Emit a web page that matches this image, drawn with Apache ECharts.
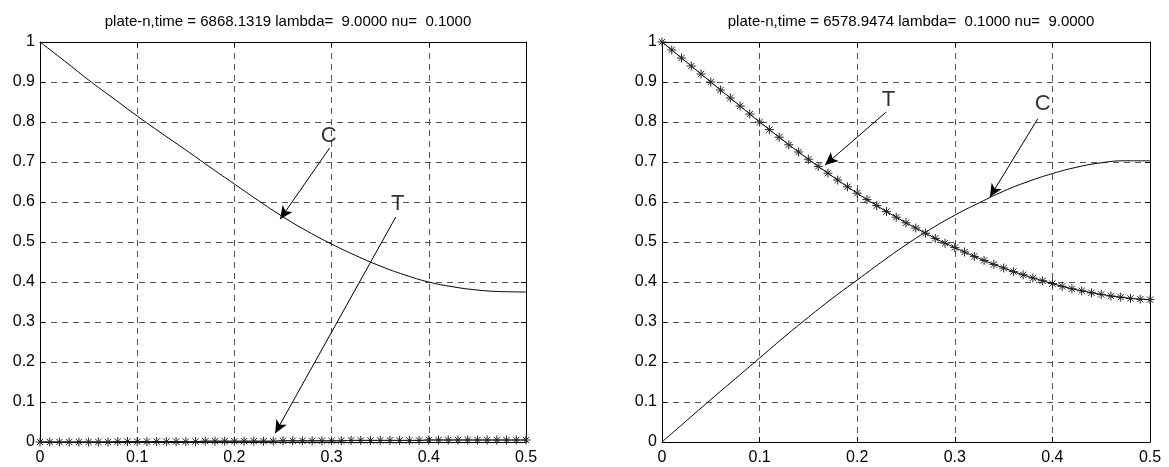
<!DOCTYPE html>
<html><head><meta charset="utf-8">
<script src="https://cdn.jsdelivr.net/npm/echarts@6/dist/echarts.min.js"></script>
<style>html,body{margin:0;padding:0;background:#fff}#c{width:1169px;height:467px}</style>
</head><body><div id="c"></div>
<script>
// ---- data ----
const titleLeft = 'plate-n,time = 6868.1319 lambda=  9.0000 nu=  0.1000';
const titleRight = 'plate-n,time = 6578.9474 lambda=  0.1000 nu=  9.0000';

const xFine = [0,0.01,0.02,0.03,0.04,0.05,0.06,0.07,0.08,0.09,0.1,0.11,0.12,0.13,0.14,0.15,0.16,0.17,0.18,0.19,0.2,0.21,0.22,0.23,0.24,0.25,0.26,0.27,0.28,0.29,0.3,0.31,0.32,0.33,0.34,0.35,0.36,0.37,0.38,0.39,0.4,0.41,0.42,0.43,0.44,0.45,0.46,0.47,0.48,0.49,0.5];
const xCoarse = [0,0.025,0.05,0.075,0.1,0.125,0.15,0.175,0.2,0.225,0.25,0.275,0.3,0.325,0.35,0.375,0.4,0.425,0.45,0.475,0.5];

// left plot (lambda = 9, nu = 0.1)
const leftC = [1.0,0.953,0.905,0.86,0.815,0.772,0.73,0.687,0.645,0.603,0.563,0.527,0.495,0.466,0.44,0.418,0.4,0.388,0.38,0.376,0.375];
const leftT = [0,0,0,0,0,0,0,0,0.001,0.001,0.001,0.001,0.001,0.001,0.001,0.001,0.001,0.002,0.002,0.002,0.002,0.002,0.002,0.002,0.002,0.003,0.003,0.003,0.003,0.003,0.003,0.003,0.004,0.004,0.004,0.004,0.004,0.004,0.004,0.004,0.005,0.005,0.005,0.005,0.005,0.005,0.005,0.005,0.005,0.005,0.005];

// right plot (lambda = 0.1, nu = 9)
const rightT = [1.0,0.98,0.96,0.94,0.92,0.9,0.88,0.86,0.84,0.82,0.8,0.781,0.762,0.743,0.725,0.707,0.689,0.672,0.655,0.638,0.622,0.606,0.591,0.576,0.562,0.548,0.535,0.522,0.509,0.497,0.486,0.475,0.464,0.454,0.444,0.435,0.426,0.418,0.41,0.403,0.396,0.389,0.383,0.378,0.373,0.369,0.365,0.362,0.359,0.357,0.356];
const rightC = [0,0.053,0.106,0.158,0.21,0.262,0.312,0.36,0.405,0.45,0.493,0.532,0.567,0.598,0.627,0.651,0.671,0.687,0.698,0.703,0.703];

// annotations: [labelX, labelY, text, arrowStartX, arrowStartY, tipX, tipY]
const leftNotes = [[0.297,0.765,'C',0.298,0.735,0.247,0.557],[0.368,0.595,'T',0.366,0.5625,0.242,0.022]];
const rightNotes = [[0.232,0.855,'T',0.2297,0.825,0.167,0.6925],[0.39,0.845,'C',0.385,0.808,0.336,0.6125]];

const xTicks = [0,0.1,0.2,0.3,0.4,0.5];
const yTicks = [0,0.1,0.2,0.3,0.4,0.5,0.6,0.7,0.8,0.9,1];

// ---- chart ----
const FONT = 'Liberation Sans, Arial, sans-serif';
const grids = [
  {left:40, top:42, width:486, height:400},
  {left:662, top:42, width:488, height:400}
];
const star = 'path://M0,-10L0,10M-10,0L10,0M-7,-7L7,7M-7,7L7,-7';

function pair(a,b){return a.map((v,i)=>[v,b[i]]);}
const fmt = v=>String(+(+v).toFixed(2));

const xAxes=[], yAxes=[], series=[];
[0,1].forEach(g=>{
  xAxes.push({gridIndex:g,type:'value',min:xTicks[0],max:xTicks[xTicks.length-1],interval:0.1,
    axisLine:{show:true,onZero:false,lineStyle:{color:'#000',width:1}},
    axisTick:{show:true,inside:true,length:5,lineStyle:{color:'#000'}},
    axisLabel:{color:'#000',fontFamily:FONT,fontSize:16,margin:8,formatter:fmt},
    splitLine:{show:true,lineStyle:{color:'#555',type:[6,5],width:1}}});
  xAxes.push({gridIndex:g,type:'value',position:'top',min:0,max:0.5,interval:0.1,
    axisLine:{show:true,onZero:false,lineStyle:{color:'#000',width:1}},
    axisTick:{show:true,inside:true,length:5,lineStyle:{color:'#000'}},
    axisLabel:{show:false},splitLine:{show:false}});
  yAxes.push({gridIndex:g,type:'value',min:yTicks[0],max:yTicks[yTicks.length-1],interval:0.1,
    axisLine:{show:true,onZero:false,lineStyle:{color:'#000',width:1}},
    axisTick:{show:true,inside:true,length:5,lineStyle:{color:'#000'}},
    axisLabel:{color:'#000',fontFamily:FONT,fontSize:16,margin:5,formatter:fmt},
    splitLine:{show:true,lineStyle:{color:'#555',type:[6,5],width:1}}});
  yAxes.push({gridIndex:g,type:'value',position:'right',min:0,max:1,interval:0.1,
    axisLine:{show:true,onZero:false,lineStyle:{color:'#000',width:1}},
    axisTick:{show:true,inside:true,length:5,lineStyle:{color:'#000'}},
    axisLabel:{show:false},splitLine:{show:false}});
});

function lineSeries(g,data,marker){
  return {type:'line',xAxisIndex:g*2,yAxisIndex:g*2,data:data,smooth:!marker,
    showSymbol:!!marker,symbol:marker?star:'none',symbolSize:9,
    lineStyle:{color:'#000',width:1},
    itemStyle:{color:'#000',borderColor:'#222',borderWidth:1},
    animation:false,silent:true,z:3};
}
series.push(lineSeries(0,pair(xCoarse,leftC),false));
series.push(lineSeries(0,pair(xFine,leftT),true));
series.push(lineSeries(1,pair(xFine,rightT),true));
series.push(lineSeries(1,pair(xCoarse,rightC),false));

function notes(g,list){
  series.push({type:'scatter',xAxisIndex:g*2,yAxisIndex:g*2,symbolSize:0,silent:true,animation:false,
    data:list.map(n=>({value:[n[0],n[1]],name:n[2]})),
    label:{show:true,position:'inside',formatter:p=>p.name,color:'#000',fontFamily:FONT,fontSize:22},
    markLine:{silent:true,animation:false,symbol:['none','arrow'],symbolSize:[9,13],
      lineStyle:{color:'#000',width:1,type:'solid'},label:{show:false},
      data:list.map(n=>[{coord:[n[3],n[4]]},{coord:[n[5],n[6]]}])},
    z:5});
}
notes(0,leftNotes);
notes(1,rightNotes);

const chart = echarts.init(document.getElementById('c'),null,{renderer:'canvas'});
chart.setOption({
  animation:false,
  backgroundColor:'#fff',
  title:[
    {text:titleLeft,left:283,top:9,textAlign:'center',textStyle:{fontFamily:FONT,fontSize:15,fontWeight:'normal',color:'#000'}},
    {text:titleRight,left:906,top:9,textAlign:'center',textStyle:{fontFamily:FONT,fontSize:15,fontWeight:'normal',color:'#000'}}
  ],
  grid:grids,
  xAxis:xAxes,
  yAxis:yAxes,
  series:series
});
</script></body></html>
